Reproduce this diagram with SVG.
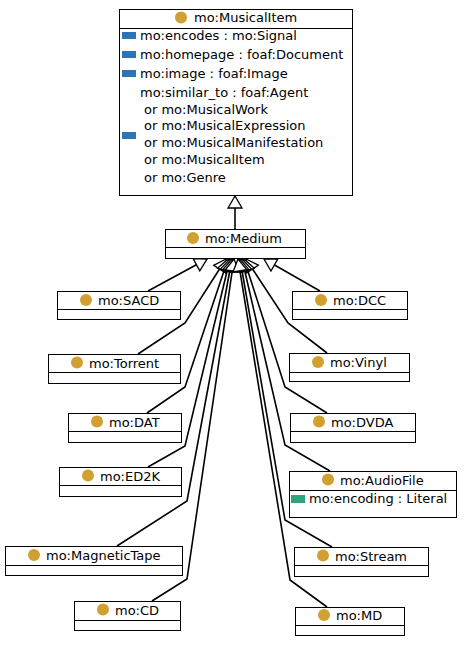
<svg xmlns="http://www.w3.org/2000/svg" width="467" height="646" viewBox="0 0 467 646">
<defs>
<marker id="tri" viewBox="-13 -8 14 16" refX="0" refY="0" markerWidth="14" markerHeight="16" markerUnits="userSpaceOnUse" orient="auto">
<path d="M0,0 L-12,-7 L-12,7 Z" fill="#fff" stroke="#000" stroke-width="1.3"/>
</marker>
</defs>
<style>
.box{fill:#fff;stroke:#000;stroke-width:1}
.div{stroke:#000;stroke-width:1}
.t{font-family:"DejaVu Sans",sans-serif;font-size:13px;fill:#000}
.c{fill:#d1a030}
.op{fill:#2e74b5}
.dp{fill:#2fa57b}
.e{fill:none;stroke:#000;stroke-width:1.6;marker-end:url(#tri)}
</style>
<rect width="467" height="646" fill="#fff"/>
<g id="connectors">
<path class="e" d="M235,229 L235,196"/>
<path class="e" d="M148,291 L207,259"/>
<path class="e" d="M138,354 L185,323 L226,259"/>
<path class="e" d="M147,413 L185,387 L228,259"/>
<path class="e" d="M148,467 L185,446 L230,259"/>
<path class="e" d="M117,546 L187,501 L232,259"/>
<path class="e" d="M152,601 L187,579 L234,259"/>
<path class="e" d="M320,291 L264,259"/>
<path class="e" d="M327,353 L288,323 L246,259"/>
<path class="e" d="M327,413 L285,387 L244,259"/>
<path class="e" d="M330,471 L285,445 L242,259"/>
<path class="e" d="M332,547 L285,520 L240,259"/>
<path class="e" d="M327,607 L290,580 L238,259"/>
</g>
<g id="MusicalItem">
<rect class="box" x="119.5" y="9.5" width="233" height="186"/>
<line class="div" x1="119.5" y1="28.5" x2="352.5" y2="28.5"/>
<circle class="c" cx="181" cy="17.5" r="6"/>
<text class="t" x="194" y="22">mo:MusicalItem</text>
<rect class="op" x="122" y="32" width="14" height="7"/>
<text class="t" x="140" y="40">mo:encodes : mo:Signal</text>
<rect class="op" x="122" y="51" width="14" height="7"/>
<text class="t" x="140" y="59">mo:homepage : foaf:Document</text>
<rect class="op" x="122" y="70" width="14" height="7"/>
<text class="t" x="140" y="78">mo:image : foaf:Image</text>
<rect class="op" x="122" y="132" width="14" height="7"/>
<text class="t" x="140" y="97">mo:similar_to : foaf:Agent</text>
<text class="t" x="144" y="114">or mo:MusicalWork</text>
<text class="t" x="144" y="130">or mo:MusicalExpression</text>
<text class="t" x="144" y="147">or mo:MusicalManifestation</text>
<text class="t" x="144" y="164">or mo:MusicalItem</text>
<text class="t" x="144" y="182">or mo:Genre</text>
</g>
<g id="Medium">
<rect class="box" x="165.5" y="229.5" width="140" height="29"/>
<line class="div" x1="165.5" y1="247.5" x2="305.5" y2="247.5"/>
<circle class="c" cx="193" cy="238" r="6"/>
<text class="t" x="205" y="243">mo:Medium</text>
</g>
<g id="SACD">
<rect class="box" x="57.5" y="291.5" width="123" height="28"/>
<line class="div" x1="57.5" y1="309.5" x2="180.5" y2="309.5"/>
<circle class="c" cx="86" cy="300" r="6"/>
<text class="t" x="98" y="305">mo:SACD</text>
</g>
<g id="Torrent">
<rect class="box" x="48.5" y="354.5" width="132" height="29"/>
<line class="div" x1="48.5" y1="372.5" x2="180.5" y2="372.5"/>
<circle class="c" cx="77" cy="362.5" r="6"/>
<text class="t" x="89" y="367.5">mo:Torrent</text>
</g>
<g id="DAT">
<rect class="box" x="68.5" y="413.5" width="113" height="29"/>
<line class="div" x1="68.5" y1="431.5" x2="181.5" y2="431.5"/>
<circle class="c" cx="97" cy="421.5" r="6"/>
<text class="t" x="109" y="426.5">mo:DAT</text>
</g>
<g id="ED2K">
<rect class="box" x="59.5" y="467.5" width="122" height="29"/>
<line class="div" x1="59.5" y1="485.5" x2="181.5" y2="485.5"/>
<circle class="c" cx="88" cy="475.5" r="6"/>
<text class="t" x="100" y="480.5">mo:ED2K</text>
</g>
<g id="MagneticTape">
<rect class="box" x="5.5" y="546.5" width="177" height="29"/>
<line class="div" x1="5.5" y1="565.5" x2="182.5" y2="565.5"/>
<circle class="c" cx="34" cy="555" r="6"/>
<text class="t" x="46" y="560">mo:MagneticTape</text>
</g>
<g id="CD">
<rect class="box" x="74.5" y="601.5" width="106" height="29"/>
<line class="div" x1="74.5" y1="620.5" x2="180.5" y2="620.5"/>
<circle class="c" cx="103" cy="609.5" r="6"/>
<text class="t" x="115" y="614.5">mo:CD</text>
</g>
<g id="DCC">
<rect class="box" x="292.5" y="291.5" width="115" height="28"/>
<line class="div" x1="292.5" y1="309.5" x2="407.5" y2="309.5"/>
<circle class="c" cx="321" cy="300" r="6"/>
<text class="t" x="333" y="305">mo:DCC</text>
</g>
<g id="Vinyl">
<rect class="box" x="289.5" y="353.5" width="120" height="28"/>
<line class="div" x1="289.5" y1="372.5" x2="409.5" y2="372.5"/>
<circle class="c" cx="318" cy="362" r="6"/>
<text class="t" x="330" y="367">mo:Vinyl</text>
</g>
<g id="DVDA">
<rect class="box" x="290.5" y="413.5" width="125" height="29"/>
<line class="div" x1="290.5" y1="431.5" x2="415.5" y2="431.5"/>
<circle class="c" cx="319" cy="421.5" r="6"/>
<text class="t" x="331" y="426.5">mo:DVDA</text>
</g>
<g id="AudioFile">
<rect class="box" x="289.5" y="471.5" width="167" height="46"/>
<line class="div" x1="289.5" y1="490.5" x2="456.5" y2="490.5"/>
<circle class="c" cx="328" cy="479.5" r="6"/>
<text class="t" x="340" y="484.5">mo:AudioFile</text>
<rect class="dp" x="291" y="495" width="14" height="8"/>
<text class="t" x="309" y="503">mo:encoding : Literal</text>
</g>
<g id="Stream">
<rect class="box" x="294.5" y="547.5" width="134" height="29"/>
<line class="div" x1="294.5" y1="565.5" x2="428.5" y2="565.5"/>
<circle class="c" cx="323" cy="555.5" r="6"/>
<text class="t" x="335" y="560.5">mo:Stream</text>
</g>
<g id="MD">
<rect class="box" x="295.5" y="607.5" width="109" height="28"/>
<line class="div" x1="295.5" y1="625.5" x2="404.5" y2="625.5"/>
<circle class="c" cx="324" cy="615" r="6"/>
<text class="t" x="336" y="620">mo:MD</text>
</g>
</svg>
